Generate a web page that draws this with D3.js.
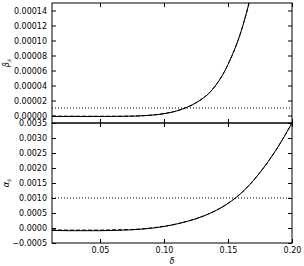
<!DOCTYPE html>
<html>
<head>
<meta charset="utf-8">
<script src="https://cdn.jsdelivr.net/npm/d3@7"></script>
<style>
body { margin: 0; background: #fff; }
svg { display: block; }
text { font-family: "DejaVu Sans", sans-serif; }
</style>
</head>
<body>
<script>
// delta values shared by both panels
var delta = [0.0125, 0.025, 0.0375, 0.05, 0.0625, 0.075, 0.0875, 0.1, 0.1125,
             0.125, 0.1375, 0.15, 0.1625, 0.175, 0.1875, 0.2];

// beta_s, solid and dashed
var betaSolid = [-0.0000013, -0.0000013, -0.0000013, -0.0000013, -0.0000012, -0.0000009,
                 0.0000001, 0.0000024, 0.0000075, 0.0000170, 0.0000340, 0.0000680,
                 0.0001250, 0.0002170, 0.0003500, 0.0005400];
var betaDashed = [-0.0000009, -0.0000009, -0.0000010, -0.0000010, -0.0000010, -0.0000008,
                  0.0000002, 0.0000025, 0.0000075, 0.0000170, 0.0000340, 0.0000680,
                  0.0001250, 0.0002170, 0.0003500, 0.0005400];

// alpha_s, solid and dashed
var alphaSolid = [-0.00008, -0.00009, -0.00009, -0.00009, -0.00008, -0.00006, -0.00002,
                  0.00005, 0.00016, 0.00031, 0.00052, 0.00082, 0.00125, 0.00185,
                  0.00260, 0.00350];
var alphaDashed = [-0.00006, -0.00007, -0.00007, -0.00007, -0.00006, -0.00005, -0.00001,
                   0.00006, 0.00016, 0.00031, 0.00052, 0.00082, 0.00125, 0.00185,
                   0.00260, 0.00350];

var betaRef = 0.00001, alphaRef = 0.001;

var xTicks = [0.05, 0.10, 0.15, 0.20];
var betaTicks = [0, 0.00002, 0.00004, 0.00006, 0.00008, 0.00010, 0.00012, 0.00014];
var alphaTicks = [-0.0005, 0, 0.0005, 0.0010, 0.0015, 0.0020, 0.0025, 0.0030, 0.0035];

var width = 304, height = 266;
var left = 52, right = 292;

var svg = d3.select("body").append("svg")
    .attr("width", width)
    .attr("height", height);

var x = d3.scaleLinear().domain([0.0125, 0.2]).range([left, right]);

var panels = [
  {top: 3, bottom: 123, domain: [-0.00001, 0.00015], ticks: betaTicks, fmt: d3.format(".5f"),
   solid: betaSolid, dashed: betaDashed, ref: betaRef, label: "β", xlabels: false, id: "cb"},
  {top: 123, bottom: 243, domain: [-0.0005, 0.0035], ticks: alphaTicks, fmt: d3.format(".4f"),
   solid: alphaSolid, dashed: alphaDashed, ref: alphaRef, label: "α", xlabels: true, id: "ca"}
];

panels.forEach(function(p) {
  var y = d3.scaleLinear().domain(p.domain).range([p.bottom, p.top]);
  var g = svg.append("g");

  g.append("clipPath").attr("id", p.id)
    .append("rect")
    .attr("x", left).attr("y", p.top)
    .attr("width", right - left).attr("height", p.bottom - p.top);

  var plot = g.append("g").attr("clip-path", "url(#" + p.id + ")");

  // reference line
  plot.append("line")
    .attr("x1", left).attr("x2", right)
    .attr("y1", y(p.ref)).attr("y2", y(p.ref))
    .attr("stroke", "#000")
    .attr("stroke-width", 1)
    .attr("stroke-dasharray", "1,2");

  var line = d3.line()
    .x((d, i) => x(delta[i]))
    .y(d => y(d))
    .curve(d3.curveMonotoneX);

  plot.append("path").datum(p.dashed)
    .attr("d", line)
    .attr("fill", "none")
    .attr("stroke", "#000")
    .attr("stroke-width", 1)
    .attr("stroke-dasharray", "4,2");

  plot.append("path").datum(p.solid)
    .attr("d", line)
    .attr("fill", "none")
    .attr("stroke", "#000")
    .attr("stroke-width", 1);

  // axes, ticks inward
  g.append("g").attr("transform", "translate(" + left + ",0)")
    .call(d3.axisLeft(y).tickValues(p.ticks).tickSizeInner(-4).tickSizeOuter(0)
      .tickPadding(5).tickFormat(d => p.fmt(d).replace("-", "−")))
    .call(a => a.select(".domain").remove())
    .selectAll("text").attr("font-size", 8).attr("fill", "#000");

  g.append("g").attr("transform", "translate(" + right + ",0)")
    .call(d3.axisRight(y).tickValues(p.ticks).tickSizeInner(-4).tickSizeOuter(0).tickFormat(""))
    .call(a => a.select(".domain").remove());

  g.append("g").attr("transform", "translate(0," + p.top + ")")
    .call(d3.axisTop(x).tickValues(xTicks).tickSizeInner(-4).tickSizeOuter(0).tickFormat(""))
    .call(a => a.select(".domain").remove());

  var bx = g.append("g").attr("transform", "translate(0," + p.bottom + ")")
    .call(d3.axisBottom(x).tickValues(xTicks).tickSizeInner(-4).tickSizeOuter(0)
      .tickPadding(4).tickFormat(p.xlabels ? d3.format(".2f") : ""))
    .call(a => a.select(".domain").remove());
  bx.selectAll("text").attr("font-size", 8).attr("fill", "#000");

  g.selectAll(".tick line").attr("stroke", "#000");

  g.append("rect")
    .attr("x", left).attr("y", p.top)
    .attr("width", right - left).attr("height", p.bottom - p.top)
    .attr("fill", "none")
    .attr("stroke", "#000")
    .attr("stroke-width", 1);

  // y label
  var lab = g.append("text")
    .attr("transform", "translate(9," + ((p.top + p.bottom) / 2) + ") rotate(-90)")
    .attr("text-anchor", "middle")
    .attr("font-size", 8)
    .attr("font-style", "italic");
  lab.append("tspan").text(p.label);
  lab.append("tspan").attr("font-size", 6).attr("dy", 2).text("s");
});

svg.append("text")
  .attr("x", (left + right) / 2).attr("y", 264)
  .attr("text-anchor", "middle")
  .attr("font-size", 8)
  .attr("font-style", "italic")
  .text("δ");
</script>
</body>
</html>
